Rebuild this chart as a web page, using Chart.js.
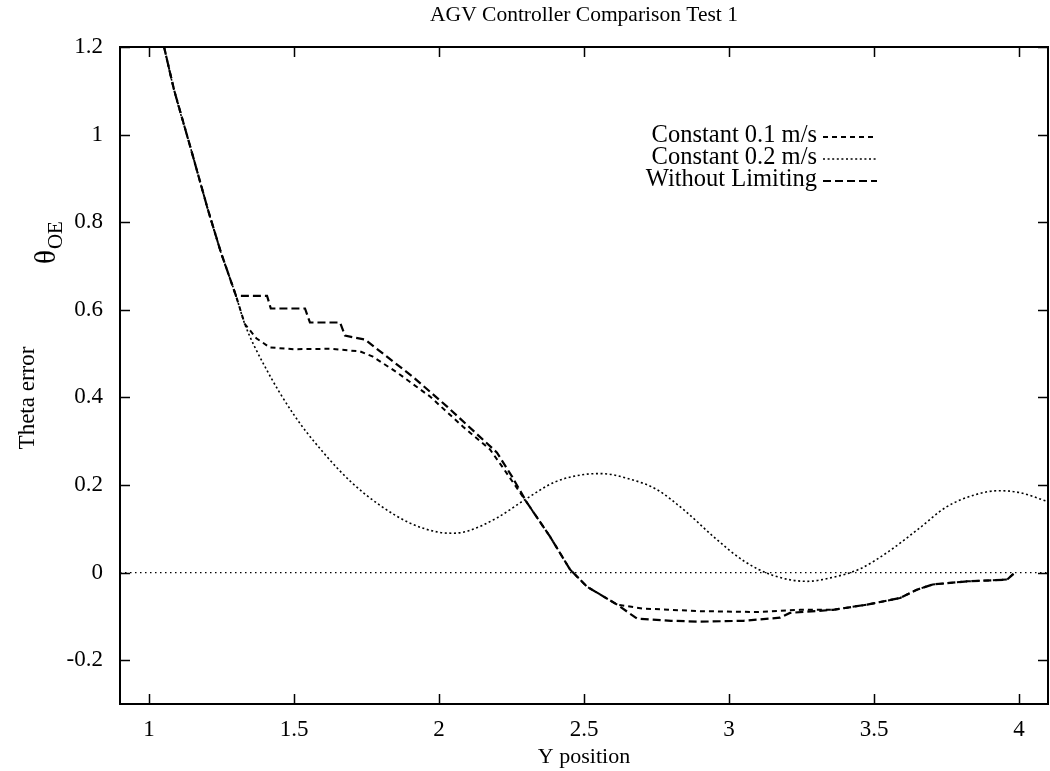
<!DOCTYPE html>
<html><head><meta charset="utf-8">
<script src="https://cdn.jsdelivr.net/npm/chart.js@4.4.1/dist/chart.umd.min.js"></script>
<style>html,body{margin:0;padding:0;background:#fff;}#wrap{width:1050px;height:771px;}</style>
</head><body><div id="wrap"><canvas id="c" width="1050" height="771"></canvas></div>
<script>
const chartTitle = "AGV Controller Comparison Test 1";
const xAxisTitle = "Y position";
const yAxisTitle = "Theta error";
const xTicks = [1, 1.5, 2, 2.5, 3, 3.5, 4];
const yTicks = [-0.2, 0, 0.2, 0.4, 0.6, 0.8, 1, 1.2];
const seriesLabels = ["Constant 0.1 m/s", "Constant 0.2 m/s", "Without Limiting"];

// Constant 0.1 m/s
const c01X = [1.052,1.086,1.145,1.203,1.248,1.30,1.33,1.37,1.417,1.5,1.624,1.728,1.772,1.855,1.969,2.083,2.176,2.22,2.303,2.383,2.452,2.51,2.614,2.7,2.9,3.1,3.245,3.359,3.476,3.59,3.648,3.703,3.821,3.959,3.986];
const c01Y = [1.2,1.103,0.966,0.829,0.731,0.632,0.568,0.535,0.514,0.51,0.511,0.505,0.493,0.457,0.402,0.333,0.281,0.24,0.16,0.082,0.007,-0.032,-0.073,-0.082,-0.088,-0.09,-0.085,-0.085,-0.073,-0.058,-0.039,-0.027,-0.02,-0.016,0];

// Constant 0.2 m/s
const c02X = [1.052,1.086,1.145,1.203,1.248,1.30,1.33,1.4,1.5,1.6,1.7,1.8,1.9,2.0,2.05,2.1,2.2,2.3,2.4,2.5,2.56,2.65,2.75,2.85,2.95,3.05,3.15,3.27,3.35,3.45,3.55,3.65,3.75,3.85,3.93,4.0,4.1];
const c02Y = [1.2,1.103,0.966,0.829,0.731,0.632,0.568,0.47,0.36,0.275,0.205,0.152,0.113,0.092,0.09,0.095,0.125,0.168,0.207,0.224,0.226,0.215,0.19,0.14,0.08,0.027,-0.006,-0.02,-0.012,0.008,0.048,0.098,0.15,0.178,0.187,0.183,0.162];

// Without Limiting
const wlX = [1.052,1.086,1.145,1.203,1.248,1.30,1.407,1.42,1.538,1.555,1.659,1.676,1.745,1.797,1.91,2.028,2.141,2.2,2.252,2.303,2.383,2.452,2.51,2.614,2.683,2.8,2.9,3.05,3.176,3.21,3.359,3.476,3.59,3.648,3.703,3.821,3.959,3.986];
const wlY = [1.2,1.103,0.966,0.829,0.731,0.632,0.632,0.603,0.603,0.571,0.571,0.541,0.532,0.505,0.447,0.379,0.31,0.274,0.219,0.16,0.082,0.007,-0.032,-0.073,-0.105,-0.11,-0.112,-0.11,-0.103,-0.092,-0.085,-0.073,-0.058,-0.039,-0.027,-0.02,-0.016,0];

// zero axis
const zeroX = [0.9, 4.1];
const zeroY = [0, 0];

const pts = (xs, ys) => xs.map((x, i) => ({x: x, y: ys[i]}));
const SERIF = "'Liberation Serif', 'Times New Roman', serif";

const framePlugin = {
  id: 'frame',
  afterDatasetsDraw(chart) {
    const {ctx, chartArea: a, scales: {x, y}} = chart;
    ctx.save();
    ctx.strokeStyle = '#000';
    ctx.lineWidth = 1.5;
    ctx.setLineDash([]);
    const tl = 10;
    xTicks.forEach(v => {
      const px = Math.round(x.getPixelForValue(v)) + 0.5;
      ctx.beginPath();
      ctx.moveTo(px, a.bottom); ctx.lineTo(px, a.bottom - tl);
      ctx.moveTo(px, a.top); ctx.lineTo(px, a.top + tl);
      ctx.stroke();
    });
    yTicks.forEach(v => {
      const py = Math.round(y.getPixelForValue(v)) + 0.5;
      ctx.beginPath();
      ctx.moveTo(a.left, py); ctx.lineTo(a.left + tl, py);
      ctx.moveTo(a.right, py); ctx.lineTo(a.right - tl, py);
      ctx.stroke();
    });
    ctx.lineWidth = 2;
    ctx.strokeRect(a.left, a.top, a.right - a.left, a.bottom - a.top);
    ctx.restore();
  },
  afterDraw(chart) {
    const ctx = chart.ctx;
    const a = chart.chartArea;
    ctx.save();
    ctx.fillStyle = '#000';
    // title centred over plot area
    ctx.font = "21.5px " + SERIF;
    ctx.textAlign = 'center';
    ctx.textBaseline = 'middle';
    ctx.fillText(chartTitle, (a.left + a.right) / 2, 15);
    // legend
    const rows = [136, 158, 180];
    chart.data.datasets.forEach((ds, i) => {
      if (!ds.label) return;
      const yy = rows[i];
      ctx.font = "24.5px " + SERIF;
      ctx.textAlign = 'right';
      ctx.textBaseline = 'middle';
      ctx.fillText(ds.label, 817, yy);
      ctx.strokeStyle = '#000';
      ctx.lineWidth = ds.borderWidth;
      ctx.setLineDash(ds.borderDash);
      ctx.beginPath();
      ctx.moveTo(823, yy + 1); ctx.lineTo(877, yy + 1);
      ctx.stroke();
    });
    ctx.setLineDash([]);
    // y axis titles
    ctx.save();
    ctx.translate(34, 398);
    ctx.rotate(-Math.PI / 2);
    ctx.font = "23px " + SERIF;
    ctx.textAlign = 'center';
    ctx.textBaseline = 'alphabetic';
    ctx.fillText(yAxisTitle, 0, 0);
    ctx.restore();
    ctx.save();
    ctx.translate(55, 264);
    ctx.rotate(-Math.PI / 2);
    ctx.textAlign = 'left';
    ctx.textBaseline = 'alphabetic';
    ctx.font = "29px " + SERIF;
    ctx.fillText("θ", 0, 0);
    const w = ctx.measureText("θ").width;
    ctx.font = "21px " + SERIF;
    ctx.fillText("OE", w + 1, 7);
    ctx.restore();
    ctx.restore();
  }
};

new Chart(document.getElementById('c'), {
  type: 'scatter',
  data: {
    datasets: [
      {label: seriesLabels[0], data: pts(c01X, c01Y), showLine: true, borderColor: '#000', borderWidth: 2, borderDash: [5, 4], pointRadius: 0, tension: 0},
      {label: seriesLabels[1], data: pts(c02X, c02Y), showLine: true, borderColor: '#000', borderWidth: 1.6, borderDash: [2, 2.6], pointRadius: 0, cubicInterpolationMode: 'monotone'},
      {label: seriesLabels[2], data: pts(wlX, wlY), showLine: true, borderColor: '#000', borderWidth: 2.2, borderDash: [8, 4], pointRadius: 0, tension: 0},
      {label: '', data: pts(zeroX, zeroY), showLine: true, borderColor: '#000', borderWidth: 1.3, borderDash: [1.5, 3.5], pointRadius: 0}
    ]
  },
  options: {
    responsive: false,
    animation: false,
    devicePixelRatio: 1,
    layout: {padding: {left: 0, right: 2, top: 47, bottom: 0}},
    plugins: {
      legend: {display: false},
      tooltip: {enabled: false},
      title: {display: false}
    },
    scales: {
      x: {
        type: 'linear', min: 0.9, max: 4.1,
        grid: {display: false, drawTicks: false}, border: {display: false},
        afterFit: s => { s.height = 67; },
        afterBuildTicks: s => { s.ticks = xTicks.map(v => ({value: v})); },
        ticks: {autoSkip: false, maxRotation: 0, padding: 12, color: '#000', font: {family: SERIF, size: 23}, callback: v => String(v)},
        title: {display: true, text: xAxisTitle, color: '#000', font: {family: SERIF, size: 22}, padding: {top: 0, bottom: 1}}
      },
      y: {
        type: 'linear', min: -0.3, max: 1.2,
        grid: {display: false, drawTicks: false}, border: {display: false},
        afterFit: s => { s.width = 120; },
        afterBuildTicks: s => { s.ticks = yTicks.map(v => ({value: v})); },
        ticks: {autoSkip: false, padding: 17, color: '#000', font: {family: SERIF, size: 23}, callback: v => String(v)}
      }
    }
  },
  plugins: [framePlugin]
});
</script>
</body></html>
